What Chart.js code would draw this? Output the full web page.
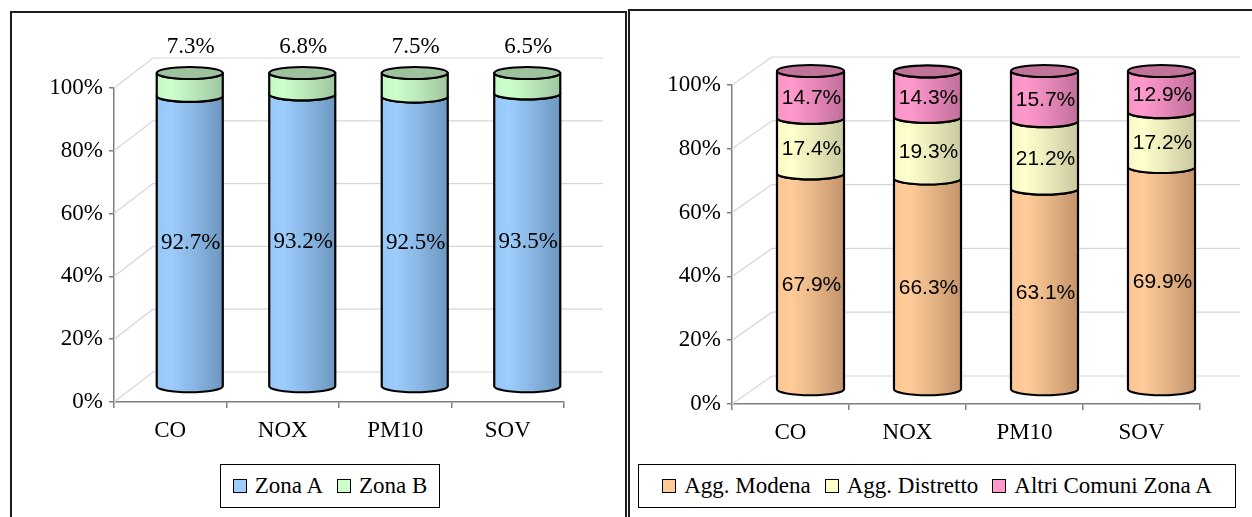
<!DOCTYPE html>
<html lang="it">
<head>
<meta charset="UTF-8">
<title>Ripartizione emissioni</title>
<script src="https://cdn.jsdelivr.net/npm/chart.js"></script>
<style>
  body {
    margin: 0;
    width: 1252px;
    height: 517px;
    overflow: hidden;
    position: relative;
    background: #fff;
    font-family: "Liberation Serif", "Times New Roman", serif;
  }
  .panel {
    position: absolute;
    border: 2px solid #1e1e1e;
    box-sizing: border-box;
  }
  #panelLeft { left: 10px; top: 11px; width: 617px; height: 530px; }
  #panelRight { left: 628px; top: 9px; width: 640px; height: 530px; }
  canvas { position: absolute; top: 0; }
  #chartLeft { left: 0; }
  #chartRight { left: 626px; }
  .legend {
    position: absolute;
    top: 464px;
    height: 44px;
    box-sizing: border-box;
    border: 1px solid #000;
    background: #fff;
    display: flex;
    align-items: center;
    justify-content: center;
    gap: 14px;
    font-size: 23px;
    color: #000;
  }
  .legend span.item { display: flex; align-items: center; gap: 8px; white-space: nowrap; }
  .legend span.box {
    display: inline-block;
    width: 12px;
    height: 12px;
    border: 1.5px solid #000;
  }
  #legendLeft { left: 220px; width: 220px; }
  #legendRight { left: 638px; width: 598px; }
</style>
</head>
<body>
<div class="panel" id="panelLeft"></div>
<div class="panel" id="panelRight"></div>
<canvas id="chartLeft" width="626" height="517"></canvas>
<canvas id="chartRight" width="626" height="517"></canvas>
<div class="legend" id="legendLeft"></div>
<div class="legend" id="legendRight"></div>

<script>
// categories and values (percent shares)
const inquinanti = ['CO', 'NOX', 'PM10', 'SOV'];

const zonaA = [92.7, 93.2, 92.5, 93.5];
const zonaB = [7.3, 6.8, 7.5, 6.5];

const aggModena = [67.9, 66.3, 63.1, 69.9];
const aggDistretto = [17.4, 19.3, 21.2, 17.2];
const altriComuni = [14.7, 14.3, 15.7, 12.9];

const yTicks = [0, 20, 40, 60, 80, 100];

const serif = '"Liberation Serif", "Times New Roman", serif';
const sans = '"Liberation Sans", Arial, sans-serif';

// light / dark / top-face colours for each series
const palette = {
    zonaA: { light: '#9dcdfc', dark: '#6d97c0', top: '#7ea9d4' },
    zonaB: { light: '#ccffcc', dark: '#a0c6a0', top: '#9ec29e' },
    modena: { light: '#ffcc99', dark: '#c3946c', top: '#d0a37c' },
    distretto: { light: '#ffffcc', dark: '#c9c9a0', top: '#d0d0a6' },
    altri: { light: '#ff99cc', dark: '#c06e9a', top: '#c27398' }
};

function mix(a, b, t) {
    const pa = [1, 3, 5].map(i => parseInt(a.substr(i, 2), 16));
    const pb = [1, 3, 5].map(i => parseInt(b.substr(i, 2), 16));
    return 'rgb(' + pa.map((v, i) => Math.round(v + (pb[i] - v) * t)).join(',') + ')';
}

// back wall + floor grid of the pseudo-3D box
const backWall = {
    id: 'backWall',
    beforeDatasetsDraw(chart, args, opts) {
        const { ctx, chartArea } = chart;
        const y = chart.scales.y;
        ctx.save();
        ctx.strokeStyle = '#d6d6d6';
        ctx.lineWidth = 1.2;
        y.ticks.forEach(t => {
            const py = y.getPixelForValue(t.value);
            ctx.beginPath();
            ctx.moveTo(chartArea.left, py);
            ctx.lineTo(chartArea.left + opts.dx, py + opts.dy);
            ctx.lineTo(chartArea.right + opts.dx, py + opts.dy);
            ctx.stroke();
        });
        ctx.restore();
    }
};

// stacked cylinders drawn on top of the (invisible) bar elements
const cylinders = {
    id: 'cylinders',
    afterDatasetsDraw(chart, args, opts) {
        const { ctx } = chart;
        const ox = opts.dx / 2, oy = opts.dy / 2, ry = opts.ry;
        const n = chart.data.datasets.length;
        ctx.save();
        ctx.lineWidth = 2.2;
        ctx.lineJoin = 'round';
        ctx.strokeStyle = '#000';
        for (let d = 0; d < n; d++) {
            const ds = chart.data.datasets[d];
            const col = ds.colors;
            chart.getDatasetMeta(d).data.forEach(bar => {
                const cx = bar.x + ox;
                const rx = bar.width / 2;
                const top = bar.y + oy;
                const bottom = bar.base + oy;
                const g = ctx.createLinearGradient(cx - rx, 0, cx + rx, 0);
                g.addColorStop(0, mix(col.light, col.dark, 0.12));
                g.addColorStop(0.22, col.light);
                g.addColorStop(0.55, mix(col.light, col.dark, 0.4));
                g.addColorStop(1, col.dark);
                ctx.beginPath();
                ctx.moveTo(cx - rx, bottom);
                ctx.lineTo(cx - rx, top);
                ctx.ellipse(cx, top, rx, ry, 0, Math.PI, 0, true);
                ctx.lineTo(cx + rx, bottom);
                ctx.ellipse(cx, bottom, rx, ry, 0, 0, Math.PI, false);
                ctx.closePath();
                ctx.fillStyle = g;
                ctx.fill();
                ctx.stroke();
                if (d === n - 1) {
                    ctx.beginPath();
                    ctx.ellipse(cx, top, rx, ry, 0, 0, Math.PI * 2);
                    ctx.fillStyle = col.top;
                    ctx.fill();
                    ctx.stroke();
                }
            });
        }
        // value labels
        ctx.fillStyle = '#000';
        ctx.textAlign = 'center';
        ctx.textBaseline = 'middle';
        for (let d = 0; d < n; d++) {
            const ds = chart.data.datasets[d];
            ctx.font = opts.labelFont;
            chart.getDatasetMeta(d).data.forEach((bar, i) => {
                const cx = bar.x + ox;
                const top = bar.y + oy;
                const bottom = bar.base + oy;
                const txt = ds.data[i].toFixed(1) + '%';
                const ly = ds.labelPos === 'above' ? top - 26 : (top + bottom) / 2 + opts.labelShift;
                ctx.fillText(txt, cx + 1, ly);
            });
        }
        ctx.restore();
    }
};

// legend rendered as html, built from the datasets
const htmlLegend = {
    id: 'htmlLegend',
    afterUpdate(chart, args, opts) {
        const box = document.getElementById(opts.containerID);
        box.innerHTML = '';
        chart.data.datasets.forEach(ds => {
            const item = document.createElement('span');
            item.className = 'item';
            const sw = document.createElement('span');
            sw.className = 'box';
            sw.style.background = ds.colors.light;
            item.appendChild(sw);
            item.appendChild(document.createTextNode(ds.label));
            box.appendChild(item);
        });
    }
};

function makeChart(id, legendId, datasets, geo) {
    return new Chart(document.getElementById(id), {
        type: 'bar',
        data: {
            labels: inquinanti,
            datasets: datasets.map(ds => Object.assign({
                backgroundColor: 'rgba(0,0,0,0)',
                borderWidth: 0,
                barPercentage: geo.barPct,
                categoryPercentage: 1
            }, ds))
        },
        options: {
            responsive: false,
            devicePixelRatio: 1,
            animation: false,
            layout: { padding: { left: 0, top: geo.top, right: geo.right, bottom: geo.bottom } },
            scales: {
                x: {
                    stacked: true,
                    grid: { display: true, drawOnChartArea: false, drawTicks: true, tickLength: 6, color: '#7f7f7f', lineWidth: 1.5, offset: true },
                    border: { display: true, color: '#7f7f7f', width: 1.5 },
                    ticks: { font: { family: serif, size: 23 }, color: '#000', padding: 9 },
                    afterFit: s => { s.height = 40; }
                },
                y: {
                    stacked: true,
                    min: 0,
                    max: 100,
                    afterBuildTicks: s => { s.ticks = yTicks.map(v => ({ value: v })); },
                    ticks: { callback: v => v + '%', font: { family: serif, size: 23 }, color: '#000', padding: 6 },
                    grid: { drawOnChartArea: false, drawTicks: true, tickLength: 5, color: '#7f7f7f', lineWidth: 1.5 },
                    border: { display: true, color: '#7f7f7f', width: 1.5 },
                    afterFit: s => { s.width = geo.axisX; }
                }
            },
            plugins: {
                legend: { display: false },
                tooltip: { enabled: false },
                backWall: { dx: geo.dx, dy: geo.dy },
                cylinders: { dx: geo.dx, dy: geo.dy, ry: 6, labelFont: geo.labelFont, labelShift: geo.labelShift },
                htmlLegend: { containerID: legendId }
            }
        },
        plugins: [backWall, cylinders, htmlLegend]
    });
}

makeChart('chartLeft', 'legendLeft', [
    { label: 'Zona A', data: zonaA, colors: palette.zonaA, labelPos: 'inside' },
    { label: 'Zona B', data: zonaB, colors: palette.zonaB, labelPos: 'above' }
], { axisX: 114, top: 88, right: 62, bottom: 75, dx: 39, dy: -30, barPct: 0.587,
     labelFont: '23px ' + serif, labelShift: 2 });

makeChart('chartRight', 'legendRight', [
    { label: 'Agg. Modena', data: aggModena, colors: palette.modena, labelPos: 'inside' },
    { label: 'Agg. Distretto', data: aggDistretto, colors: palette.distretto, labelPos: 'inside' },
    { label: 'Altri Comuni Zona A', data: altriComuni, colors: palette.altri, labelPos: 'inside' }
], { axisX: 106, top: 85, right: 52, bottom: 73, dx: 40, dy: -28, barPct: 0.573,
     labelFont: '21px ' + sans, labelShift: 4 });
</script>
</body>
</html>
